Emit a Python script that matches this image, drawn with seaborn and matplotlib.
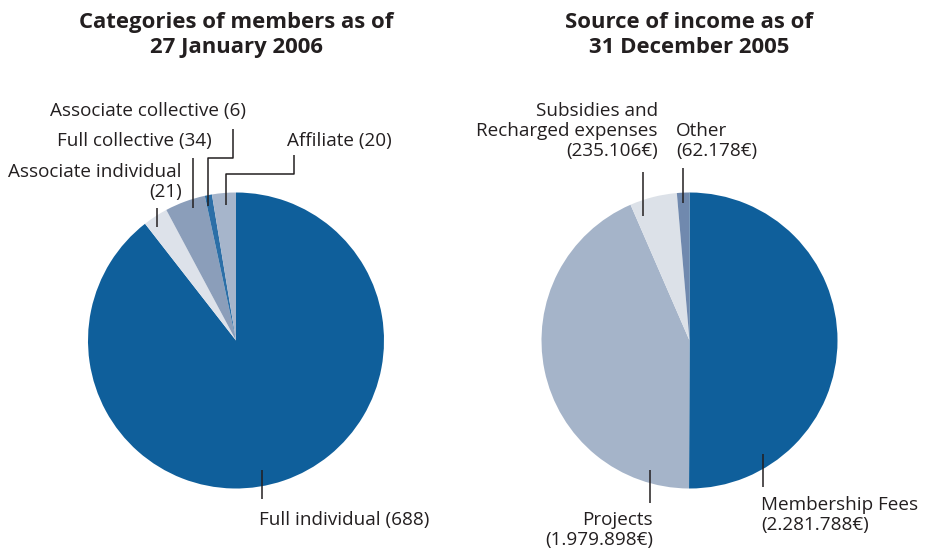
import matplotlib
matplotlib.use("Agg")
import matplotlib.pyplot as plt
import seaborn as sns

# ---- data ----
member_titles = "Categories of members as of\n27 January 2006"
member_labels = ["Full individual", "Associate individual", "Full collective",
                 "Associate collective", "Affiliate"]
member_values = [688, 21, 34, 6, 20]
member_colors = ["#0f5f9b", "#dde2ea", "#8b9eba", "#2c6fa7", "#a6b5cb"]

income_title = "Source of income as of\n31 December 2005"
income_labels = ["Membership Fees", "Projects", "Subsidies and\nRecharged expenses", "Other"]
income_values = [2281788, 1979898, 235106, 62178]
income_value_text = ["2.281.788€", "1.979.898€", "235.106€", "62.178€"]
income_colors = ["#0f5f9b", "#a5b4c9", "#dce1e8", "#7089ae"]

sns.set_theme(style="white")
plt.rcParams["font.family"] = ["Open Sans", "DejaVu Sans"]

W, H = 935, 552
fig = plt.figure(figsize=(W / 100, H / 100), dpi=100)
ax = fig.add_axes([0, 0, 1, 1])

def Y(y):
    return H - y

R = 148
ax.pie(member_values, colors=member_colors, startangle=90, counterclock=False,
       center=(236, Y(340.5)), radius=R, frame=True,
       wedgeprops=dict(linewidth=0))
ax.pie(income_values, colors=income_colors, startangle=90, counterclock=False,
       center=(689.5, Y(340.5)), radius=R, frame=True,
       wedgeprops=dict(linewidth=0))

ax.set_xlim(0, W)
ax.set_ylim(0, H)
ax.set_aspect("equal")
ax.axis("off")

TXT = "#231f20"
LFS = 13.6
TFS = 15.9

def line(xs, ys):
    ax.plot(xs, [Y(v) for v in ys], color=TXT, lw=1.1, solid_capstyle="butt")

def txt(x, y, s, ha="left", fs=LFS, weight="normal", ls=1.13):
    ax.text(x, Y(y), s, ha=ha, va="center", fontsize=fs, color=TXT, weight=weight,
            linespacing=ls, multialignment=ha)

# titles
txt(236, 35, member_titles, ha="center", fs=TFS, weight="bold", ls=1.2)
txt(689, 35, income_title, ha="center", fs=TFS, weight="bold", ls=1.2)

# left labels
txt(50, 111, f"{member_labels[3]} ({member_values[3]})")
txt(57, 141, f"{member_labels[2]} ({member_values[2]})")
txt(182, 182, f"{member_labels[1]}\n({member_values[1]})", ha="right")
txt(287, 141, f"{member_labels[4]} ({member_values[4]})")
txt(259, 520, f"{member_labels[0]} ({member_values[0]})")

line([157, 157], [208, 227])
line([193, 193], [158, 208])
line([233, 233, 208, 208], [129, 158, 158, 206])
line([294, 294, 226, 226], [155, 174, 174, 205])
line([262, 262], [470, 499])

# right labels
txt(658, 131, f"{income_labels[2]}\n({income_value_text[2]})", ha="right")
txt(676, 141, f"{income_labels[3]}\n({income_value_text[3]})")
txt(653, 530, f"{income_labels[1]}\n({income_value_text[1]})", ha="right")
txt(761, 515, f"{income_labels[0]}\n({income_value_text[0]})")

line([643, 643], [172, 216])
line([683, 683], [168, 203])
line([650, 650], [470, 503])
line([763, 763], [454, 487])

fig.savefig("out.png", dpi=100)
